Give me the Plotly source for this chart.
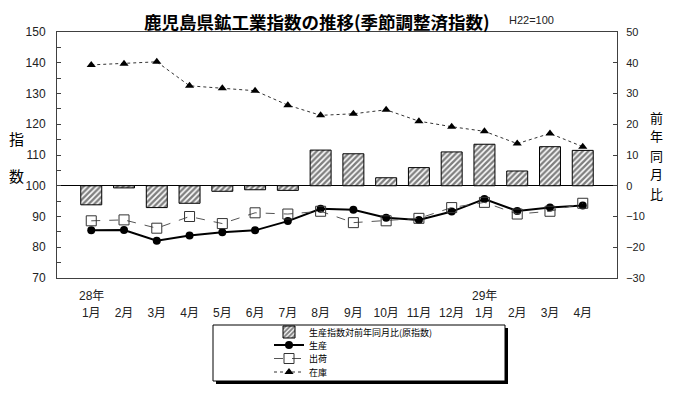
import plotly.graph_objects as go

# ---- data ----
categories = ["28-01", "28-02", "28-03", "28-04", "28-05", "28-06", "28-07", "28-08",
              "28-09", "28-10", "28-11", "28-12", "29-01", "29-02", "29-03", "29-04"]
month_labels = ["1月", "2月", "3月", "4月", "5月", "6月", "7月", "8月",
                "9月", "10月", "11月", "12月", "1月", "2月", "3月", "4月"]
year_labels = {"28-01": "28年", "29-01": "29年"}

yoy_production = [-6.2, -0.7, -7.1, -5.7, -1.8, -1.3, -1.5, 11.6,
                  10.4, 2.6, 5.9, 11.0, 13.5, 4.8, 12.7, 11.5]
production = [85.5, 85.6, 82.1, 83.8, 84.9, 85.5, 88.5, 92.5,
              92.2, 89.6, 88.9, 91.6, 95.7, 91.8, 92.9, 93.6]
shipments = [88.6, 88.9, 86.2, 90.0, 87.7, 91.2, 90.8, 91.7,
             88.0, 88.6, 89.4, 92.9, 94.6, 90.8, 91.7, 94.3]
inventory = [139.3, 139.7, 140.3, 132.5, 131.7, 130.9, 126.2, 122.9,
             123.4, 124.7, 121.0, 119.2, 117.7, 113.7, 117.0, 112.7]

FONT = "Liberation Sans, Arial, Noto Sans CJK JP"
JP = "Noto Sans CJK JP"
AX = "#404040"

# the page body has an 8px default margin: the figure is sized so it fits the 700x394 window
OFF = 8
W, H = 700 - OFF, 394 - OFF
L, T = 57 - OFF, 32 - OFF
R, B = 83, 116
pw, ph = W - L - R, H - T - B


def px_x(x):  # page pixel -> paper
    return (x - OFF - L) / pw


def px_y(y):
    return (H - B - (y - OFF)) / ph


fig = go.Figure()

fig.add_trace(go.Bar(
    x=categories, y=yoy_production, name="生産指数対前年同月比(原指数)",
    yaxis="y", width=0.64, legend="legend",
    marker=dict(color="white", line=dict(color="black", width=1),
                pattern=dict(shape="/", fgcolor="black", bgcolor="white", size=4, solidity=0.6)),
))
fig.add_trace(go.Scatter(
    x=categories, y=production, name="生産", yaxis="y2", mode="lines+markers",
    legend="legend2",
    line=dict(color="black", width=2), marker=dict(symbol="circle", size=8, color="black"),
))
fig.add_trace(go.Scatter(
    x=categories, y=shipments, name="出荷", yaxis="y2", mode="lines+markers",
    legend="legend3",
    line=dict(color="#555555", width=1, dash="dash"),
    marker=dict(symbol="square-open", size=10, color="#333333", line=dict(width=1)),
))
fig.add_trace(go.Scatter(
    x=categories, y=inventory, name="在庫", yaxis="y2", mode="lines+markers",
    legend="legend4",
    line=dict(color="#333333", width=1, dash="dot"),
    marker=dict(symbol="triangle-up", size=8, color="black"),
))

annotations = [
    dict(text="<b>鹿児島県鉱工業指数の推移(季節調整済指数)</b>", xref="paper", yref="paper",
         x=px_x(317), y=px_y(21), xanchor="center", yanchor="middle", showarrow=False,
         font=dict(family=JP, size=17.5, color="black")),
    dict(text="H22=100", xref="paper", yref="paper", x=px_x(507), y=px_y(20),
         xanchor="left", yanchor="middle", showarrow=False,
         font=dict(family=FONT, size=11, color="#222222")),
    dict(text="指", xref="paper", yref="paper", x=px_x(16), y=px_y(138),
         xanchor="center", yanchor="middle", showarrow=False,
         font=dict(family=JP, size=15, color="black")),
    dict(text="数", xref="paper", yref="paper", x=px_x(16), y=px_y(175),
         xanchor="center", yanchor="middle", showarrow=False,
         font=dict(family=JP, size=15, color="black")),
]
for i, ch in enumerate("前年同月比"):
    annotations.append(dict(text=ch, xref="paper", yref="paper", x=px_x(656), y=px_y(117 + 19 * i),
                            xanchor="center", yanchor="middle", showarrow=False,
                            font=dict(family=JP, size=13, color="black")))
for c, lab in year_labels.items():
    annotations.append(dict(text=lab, xref="x", yref="paper", x=c, y=px_y(296),
                            xanchor="center", yanchor="middle", showarrow=False,
                            font=dict(family=FONT, size=12, color="#222222")))

shapes = [
    # legend shadow
    dict(type="rect", xref="paper", yref="paper",
         x0=px_x(216), x1=px_x(508), y0=px_y(384), y1=px_y(328),
         fillcolor="black", line=dict(width=0), layer="above"),
    # legend box
    dict(type="rect", xref="paper", yref="paper",
         x0=px_x(213), x1=px_x(505), y0=px_y(381), y1=px_y(325),
         fillcolor="white", line=dict(color="black", width=1), layer="above"),
]


def leg(ycenter):
    return dict(x=px_x(269), y=px_y(ycenter), xanchor="left", yanchor="middle",
                bgcolor="rgba(0,0,0,0)", borderwidth=0,
                font=dict(family=JP, size=9, color="black"), itemwidth=30)


fig.update_layout(
    width=W, height=H, margin=dict(l=L, r=R, t=T, b=B, autoexpand=False),
    paper_bgcolor="white", plot_bgcolor="white",
    font=dict(family=FONT, size=12, color="#222222"),
    showlegend=True,
    legend=leg(332), legend2=leg(345), legend3=leg(358.5), legend4=leg(372),
    xaxis=dict(type="category", tickvals=categories, ticktext=month_labels,
               showline=True, linecolor=AX, linewidth=1, mirror=True,
               ticks="", showgrid=False, ticklabelstandoff=24, automargin=False,
               tickfont=dict(family=FONT, size=12, color="#222222")),
    yaxis=dict(side="right", range=[-30, 50], dtick=10, showgrid=False,
               showline=True, linecolor=AX, linewidth=1,
               ticks="inside", ticklen=4, tickcolor=AX,
               zeroline=True, zerolinecolor="black", zerolinewidth=1,
               ticklabelstandoff=6, automargin=False,
               tickfont=dict(family=FONT, size=11, color="#222222")),
    yaxis2=dict(side="left", overlaying="y", range=[70, 150], dtick=10, showgrid=False,
                showline=True, linecolor=AX, linewidth=1,
                ticks="inside", ticklen=4, tickcolor=AX, zeroline=False,
                minor=dict(dtick=5, ticks="inside", ticklen=4, tickcolor=AX, showgrid=False),
                ticklabelstandoff=8, automargin=False,
                tickfont=dict(family=FONT, size=12, color="#222222")),
    annotations=annotations,
    shapes=shapes,
)

fig.write_html("out.html")
